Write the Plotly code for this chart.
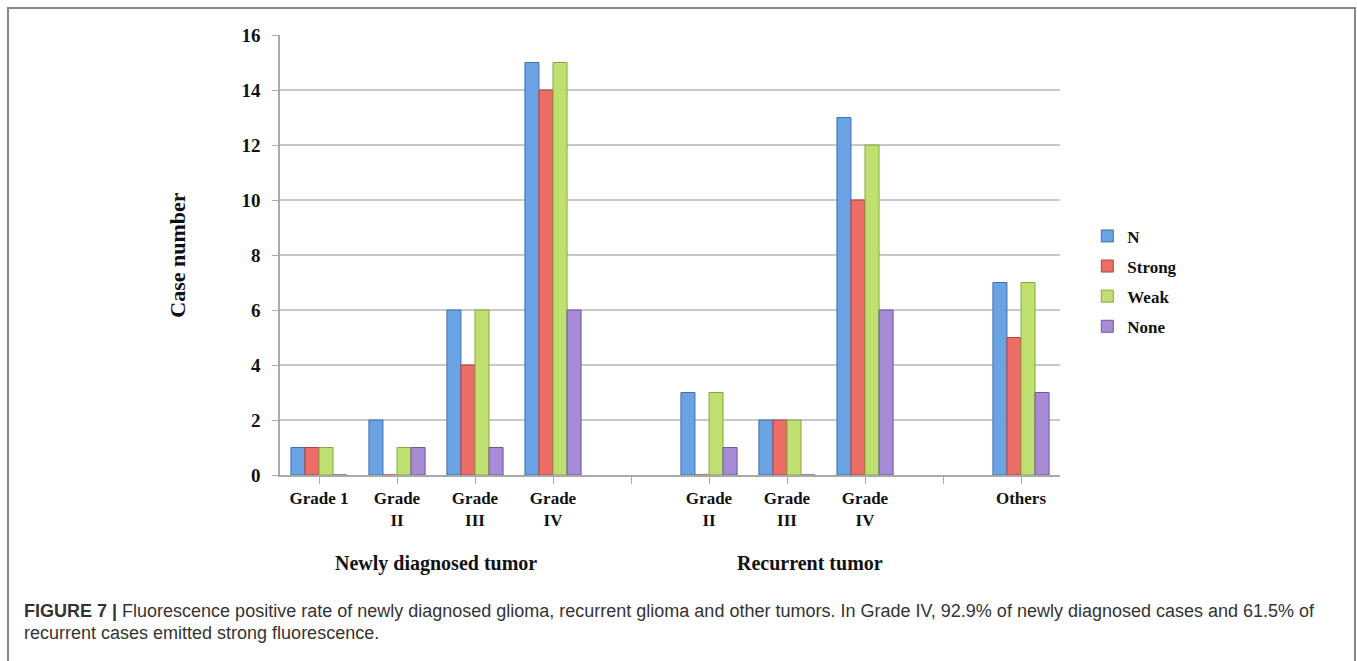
import plotly.graph_objects as go

categories = ["Grade 1", "Grade<br>II", "Grade<br>III", "Grade<br>IV", "",
              "Grade<br>II", "Grade<br>III", "Grade<br>IV", "", "Others"]
series_names = ["N", "Strong", "Weak", "None"]
n_vals = [1, 2, 6, 15, None, 3, 2, 13, None, 7]
strong_vals = [1, 0, 4, 14, None, 0, 2, 10, None, 5]
weak_vals = [1, 1, 6, 15, None, 3, 2, 12, None, 7]
none_vals = [0, 1, 1, 6, None, 1, 0, 6, None, 3]
y_ticks = [0, 2, 4, 6, 8, 10, 12, 14, 16]
group_labels = ["Newly diagnosed tumor", "Recurrent tumor"]
caption_bold = "FIGURE 7 |"
caption_line1 = (" Fluorescence positive rate of newly diagnosed glioma, recurrent glioma and other tumors. "
                 "In Grade IV, 92.9% of newly diagnosed cases and 61.5% of")
caption_line2 = "recurrent cases emitted strong fluorescence."

colors = ["#6aa3e3", "#ec6d66", "#bfe070", "#a78bd6"]
edges = ["#3f72b0", "#b8403b", "#86a83f", "#6f56a0"]
xs = list(range(len(categories)))

serif = "Liberation Serif"
fig = go.Figure()
for name, vals, c, e in zip(series_names, [n_vals, strong_vals, weak_vals, none_vals], colors, edges):
    fig.add_trace(go.Bar(x=xs, y=vals, name=name, legendgroup=name,
                         marker=dict(color=c, line=dict(color=e, width=1))))

fig.update_layout(
    width=1357, height=661,
    margin=dict(l=280, r=297, t=35, b=186),
    paper_bgcolor="white", plot_bgcolor="white",
    barmode="group", bargap=0.28, bargroupgap=0,
    font=dict(family=serif, color="#111", size=16),
    showlegend=True,
    legend=dict(x=1.035, y=0.44, xanchor="left", yanchor="middle",
                font=dict(family=serif, size=17, color="#111", weight="bold"),
                itemwidth=30, tracegroupgap=5, bgcolor="rgba(0,0,0,0)"),
    xaxis=dict(range=[-0.5, 9.5], tickvals=xs, ticktext=categories,
               tickson="boundaries", ticks="outside", ticklen=7, tickcolor="#aaa",
               showline=True, linecolor="#aaa", linewidth=1.5, showgrid=False,
               tickfont=dict(family=serif, size=17, color="#111", weight="bold"), zeroline=False),
    yaxis=dict(range=[0, 16], tickvals=y_ticks, ticks="outside", ticklen=6, tickcolor="#aaa",
               showline=True, linecolor="#aaa", linewidth=1.5, ticklabelstandoff=8,
               showgrid=True, gridcolor="#c8c8c8", gridwidth=1.5, zeroline=False,
               tickfont=dict(family=serif, size=19, color="#111", weight="bold"),
               title=dict(text="Case number", font=dict(family=serif, size=22, color="#111", weight="bold"),
                          standoff=50)),
)

# group labels
fig.add_annotation(x=1.5, y=-0.2, xref="x", yref="paper", text=group_labels[0],
                   showarrow=False, font=dict(family=serif, size=20, color="#111", weight="bold"),
                   yanchor="middle")
fig.add_annotation(x=6.3, y=-0.2, xref="x", yref="paper", text=group_labels[1],
                   showarrow=False, font=dict(family=serif, size=20, color="#111", weight="bold"),
                   yanchor="middle")

# caption
sans = "Liberation Sans"
fig.add_annotation(x=-0.3308, y=-0.309, xref="paper", yref="paper", xanchor="left", yanchor="middle",
                   text="<b>" + caption_bold + "</b>" + caption_line1, showarrow=False,
                   font=dict(family=sans, size=18, color="#333"))
fig.add_annotation(x=-0.3308, y=-0.359, xref="paper", yref="paper", xanchor="left", yanchor="middle",
                   text=caption_line2, showarrow=False,
                   font=dict(family=sans, size=18, color="#333"))

# frame
fig.add_shape(type="rect", xref="paper", yref="paper",
              x0=-0.3487, x1=1.3782, y0=-0.44, y1=1.0614,
              line=dict(color="#888", width=2), fillcolor="rgba(0,0,0,0)", layer="below")

fig.write_html("out.html")
